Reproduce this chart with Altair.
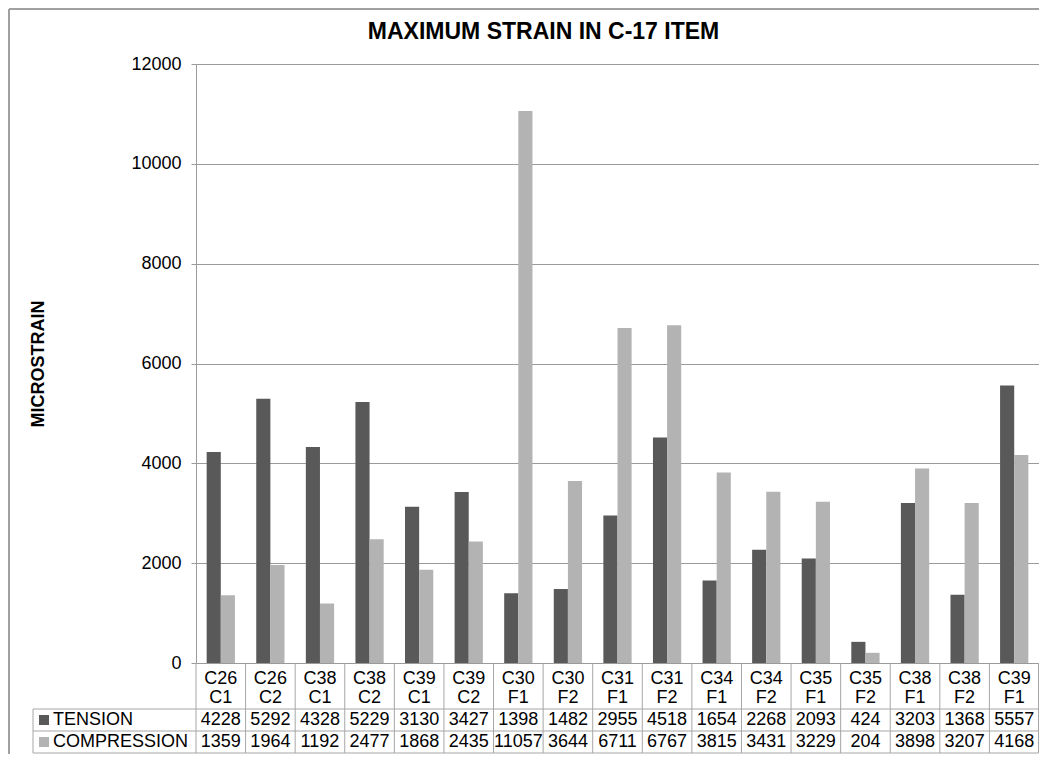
import altair as alt
import pandas as pd

# ---------------- data ----------------
categories = ["C26 C1", "C26 C2", "C38 C1", "C38 C2", "C39 C1", "C39 C2",
              "C30 F1", "C30 F2", "C31 F1", "C31 F2", "C34 F1", "C34 F2",
              "C35 F1", "C35 F2", "C38 F1", "C38 F2", "C39 F1"]
tension = [4228, 5292, 4328, 5229, 3130, 3427, 1398, 1482, 2955, 4518,
           1654, 2268, 2093, 424, 3203, 1368, 5557]
compression = [1359, 1964, 1192, 2477, 1868, 2435, 11057, 3644, 6711, 6767,
               3815, 3431, 3229, 204, 3898, 3207, 4168]
series_names = ["TENSION", "COMPRESSION"]
series_colors = ["#595959", "#b3b3b3"]
y_ticks = [0, 2000, 4000, 6000, 8000, 10000, 12000]
title_text = "MAXIMUM STRAIN IN C-17 ITEM"
y_title = "MICROSTRAIN"

# ---------------- layout ----------------
W, H = 843, 599
FONT = "Liberation Sans"
LINE = "#a6a6a6"
GRID = "#9a9a9a"
PAD_L, PAD_T, PAD_B = 188, 56, 91
ROW1, ROW2, ROW3 = 645, 667, 689   # table row lines (relative to plot top)
TABLE_LEFT = -163

long_df = pd.DataFrame({
    "category": categories * 2,
    "series": [series_names[0]] * len(categories) + [series_names[1]] * len(categories),
    "value": tension + compression,
})
cat_df = pd.DataFrame({"category": categories})
col_df = pd.DataFrame({"col": categories})
ser_df = pd.DataFrame({"series": series_names, "color": series_colors})
one = pd.DataFrame({"k": [0]})

bars = alt.Chart(long_df).mark_bar().encode(
    x=alt.X("category:N", sort=categories, axis=None,
            scale=alt.Scale(paddingInner=0.43, paddingOuter=0.215)),
    xOffset=alt.XOffset("series:N", sort=series_names),
    y=alt.Y("value:Q", scale=alt.Scale(domain=[0, 12000], nice=False),
            axis=alt.Axis(values=y_ticks, format="d", grid=True, gridColor=GRID,
                          domainColor=GRID, tickColor=GRID, tickSize=5,
                          labelPadding=10, labelFont=FONT, labelFontSize=18,
                          labelColor="#000000", title=y_title, titleFont=FONT,
                          titleFontSize=18, titleFontWeight="bold",
                          titleColor="#000000", titleX=-158, titleY=H / 2,
                          titleAngle=270, titleAlign="center",
                          titleBaseline="middle")),
    color=alt.Color("series:N", scale=alt.Scale(domain=series_names, range=series_colors),
                    legend=None),
)

pt_x = alt.X("category:N", sort=categories, axis=None,
             scale=alt.Scale(type="point", padding=0.5))

header = alt.Chart(cat_df).mark_text(
    lineBreak=" ", font=FONT, fontSize=18, lineHeight=19, baseline="middle",
    align="center", color="#000000"
).encode(x=pt_x, text="category:N", y=alt.value(614.5))

def value_row(name, ycen):
    return alt.Chart(long_df).transform_filter(
        alt.datum.series == name
    ).mark_text(font=FONT, fontSize=18, baseline="middle", align="center",
                color="#000000").encode(
        x=pt_x, text=alt.Text("value:Q", format="d"), y=alt.value(ycen))

t_row = value_row(series_names[0], (ROW1 + ROW2) / 2)
c_row = value_row(series_names[1], (ROW2 + ROW3) / 2)

def legend_row(idx, ycen):
    name = series_names[idx]
    sq = alt.Chart(ser_df).transform_filter(alt.datum.series == name).mark_square(
        size=100, opacity=1, color=series_colors[idx]
    ).encode(x=alt.value(-152), y=alt.value(ycen))
    tx = alt.Chart(ser_df).transform_filter(alt.datum.series == name).mark_text(
        font=FONT, fontSize=18, baseline="middle", align="left", color="#000000"
    ).encode(x=alt.value(-143), y=alt.value(ycen), text="series:N")
    return sq + tx

leg1 = legend_row(0, (ROW1 + ROW2) / 2)
leg2 = legend_row(1, (ROW2 + ROW3) / 2)

col_lines = alt.Chart(col_df).mark_rule(color=LINE, strokeWidth=1).encode(
    x=alt.X("col:N", sort=categories, axis=None, bandPosition=0,
            scale=alt.Scale(type="band", paddingInner=0, paddingOuter=0)),
    y=alt.value(H), y2=alt.value(ROW3))

right_line = alt.Chart(one).mark_rule(color=LINE).encode(
    x=alt.value(W - 0.5), y=alt.value(H), y2=alt.value(ROW3))
left_line = alt.Chart(one).mark_rule(color=LINE).encode(
    x=alt.value(TABLE_LEFT), y=alt.value(ROW1), y2=alt.value(ROW3))

def hline(yv, x0):
    return alt.Chart(one).mark_rule(color=LINE).encode(
        x=alt.value(x0), x2=alt.value(W - 0.5), y=alt.value(yv))

rows = hline(ROW1, TABLE_LEFT) + hline(ROW2, TABLE_LEFT) + hline(ROW3, TABLE_LEFT)

frame_l = alt.Chart(one).mark_rule(color="#a0a0a0", strokeWidth=2).encode(
    x=alt.value(-PAD_L + 1), y=alt.value(-PAD_T + 1), y2=alt.value(H + PAD_B))
frame_t = alt.Chart(one).mark_rule(color="#a0a0a0", strokeWidth=2).encode(
    x=alt.value(-PAD_L + 1), x2=alt.value(W), y=alt.value(-PAD_T + 1))

title = alt.Chart(pd.DataFrame({"t": [title_text]})).mark_text(
    font=FONT, fontSize=23, fontWeight="bold", align="center",
    baseline="alphabetic", color="#000000"
).encode(text="t:N", x=alt.value(543.5 - 196), y=alt.value(39 - 64))

chart = alt.layer(
    bars, col_lines, right_line, left_line, rows, header, t_row, c_row,
    leg1, leg2, frame_l, frame_t, title
).resolve_scale(x="independent").properties(
    width=W, height=H,
    autosize=alt.AutoSizeParams(type="none"),
    padding={"left": PAD_L, "top": PAD_T, "right": 0, "bottom": PAD_B},
).configure_view(stroke=None)

chart.save("out.html", embed_options={"renderer": "svg", "actions": False})
